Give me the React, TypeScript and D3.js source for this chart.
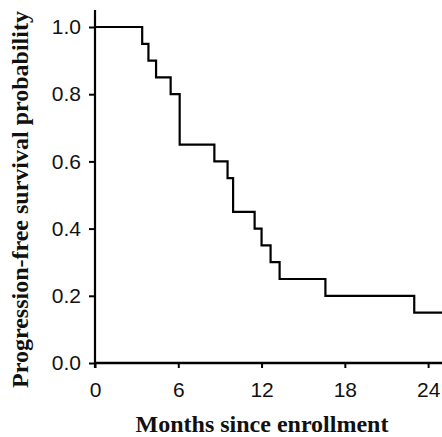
import { useEffect, useRef } from "react";
import * as d3 from "d3";

// Kaplan-Meier steps
const eventMonths = [0, 3.4, 3.85, 4.4, 5.45, 6.1, 8.6, 9.55, 9.95, 11.5, 12.0, 12.65, 13.3, 16.6, 23.0];
const survival = [1.0, 0.95, 0.9, 0.85, 0.8, 0.65, 0.6, 0.55, 0.45, 0.4, 0.35, 0.3, 0.25, 0.2, 0.15];
const lastFollowUp = 25;
const xTicks = [0, 6, 12, 18, 24];
const yTicks = [0, 0.2, 0.4, 0.6, 0.8, 1.0];
const xTitle = "Months since enrollment";
const yTitle = "Progression-free survival probability";

const W = 442;
const H = 437;
const MARGIN = { left: 95, top: 27, right: 0, bottom: 74 };

export default function App() {
  const ref = useRef<SVGSVGElement>(null);

  useEffect(() => {
    const svg = d3.select(ref.current);
    svg.selectAll("*").remove();

    const x = d3.scaleLinear().domain([0, lastFollowUp]).range([MARGIN.left, W - MARGIN.right]);
    const y = d3.scaleLinear().domain([0, 1]).range([H - MARGIN.bottom, MARGIN.top]);

    const pts: [number, number][] = eventMonths.map((t, i) => [t, survival[i]]);
    pts.push([lastFollowUp, survival[survival.length - 1]]);

    const line = d3
      .line<[number, number]>()
      .x((d) => x(d[0]))
      .y((d) => y(d[1]))
      .curve(d3.curveStepAfter);

    // y axis
    const gy = svg
      .append("g")
      .attr("transform", `translate(${x(0)},0)`)
      .call(d3.axisLeft(y).tickValues(yTicks).tickFormat(d3.format(".1f")).tickSize(6).tickPadding(8).tickSizeOuter(0));
    gy.select(".domain").remove();
    gy.selectAll(".tick line").attr("stroke", "#000").attr("stroke-width", 2);
    gy.selectAll("text")
      .attr("font-family", "'Liberation Sans', Arial, sans-serif")
      .attr("font-size", 21)
      .attr("fill", "#111");

    // x axis
    const gx = svg
      .append("g")
      .attr("transform", `translate(0,${y(0)})`)
      .call(d3.axisBottom(x).tickValues(xTicks).tickSize(5).tickPadding(14).tickSizeOuter(0));
    gx.select(".domain").remove();
    gx.selectAll(".tick line").attr("stroke", "#000").attr("stroke-width", 2);
    gx.selectAll("text")
      .attr("font-family", "'Liberation Sans', Arial, sans-serif")
      .attr("font-size", 21)
      .attr("fill", "#111");

    // axis lines
    svg
      .append("line")
      .attr("x1", x(0))
      .attr("x2", x(0))
      .attr("y1", 10)
      .attr("y2", y(0) + 5)
      .attr("stroke", "#000")
      .attr("stroke-width", 2.2);
    svg
      .append("line")
      .attr("x1", x(0) - 1)
      .attr("x2", W)
      .attr("y1", y(0))
      .attr("y2", y(0))
      .attr("stroke", "#000")
      .attr("stroke-width", 2.6);

    // survival curve
    svg
      .append("path")
      .datum(pts)
      .attr("d", line)
      .attr("fill", "none")
      .attr("stroke", "#000")
      .attr("stroke-width", 2.2);

    // titles
    svg
      .append("text")
      .attr("x", (MARGIN.left + 428) / 2 + 0.5)
      .attr("y", 432)
      .attr("text-anchor", "middle")
      .attr("font-family", "'Liberation Serif', 'Times New Roman', serif")
      .attr("font-weight", "bold")
      .attr("font-size", 24)
      .attr("fill", "#111")
      .text(xTitle);

    svg
      .append("text")
      .attr("transform", `translate(28,${(12 + 387) / 2}) rotate(-90)`)
      .attr("text-anchor", "middle")
      .attr("font-family", "'Liberation Serif', 'Times New Roman', serif")
      .attr("font-weight", "bold")
      .attr("font-size", 24)
      .attr("fill", "#111")
      .text(yTitle);
  }, []);

  return (
    <svg
      ref={ref}
      width={W}
      height={H}
      style={{ position: "fixed", left: 0, top: 0, background: "#fff" }}
    />
  );
}
